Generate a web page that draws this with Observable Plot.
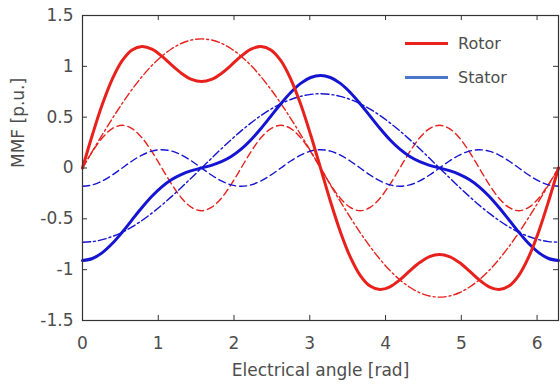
<!DOCTYPE html>
<html>
<head>
<meta charset="utf-8">
<script src="https://cdn.jsdelivr.net/npm/d3@7"></script>
<script src="https://cdn.jsdelivr.net/npm/@observablehq/plot@0.6"></script>
<style>
  html, body { margin: 0; padding: 0; background: #fff; }
  #wrap { position: relative; width: 560px; height: 386px; font-family: "DejaVu Sans", sans-serif; }
  .leg { position: absolute; left: 405px; height: 20px; display: flex; align-items: center; font-size: 16px; color: #4d4d4d; }
  .leg span.sw { display: inline-block; width: 43px; height: 3px; margin-right: 10px; }
</style>
</head>
<body>
<div id="wrap"></div>
<script>
const angle = [0, 0.131, 0.262, 0.393, 0.524, 0.654, 0.785, 0.916, 1.047, 1.178, 1.309, 1.440, 1.571, 1.702, 1.833, 1.963, 2.094, 2.225, 2.356, 2.487, 2.618, 2.749, 2.880, 3.011, 3.142, 3.272, 3.403, 3.534, 3.665, 3.796, 3.927, 4.058, 4.189, 4.320, 4.451, 4.581, 4.712, 4.843, 4.974, 5.105, 5.236, 5.367, 5.498, 5.629, 5.760, 5.890, 6.021, 6.152, 6.283];

const rotorTotal = [0, 0.327, 0.626, 0.874, 1.055, 1.161, 1.195, 1.169, 1.100, 1.012, 0.930, 0.871, 0.850, 0.871, 0.930, 1.012, 1.100, 1.169, 1.195, 1.161, 1.055, 0.874, 0.626, 0.327, 0, -0.327, -0.626, -0.874, -1.055, -1.161, -1.195, -1.169, -1.100, -1.012, -0.930, -0.871, -0.850, -0.871, -0.930, -1.012, -1.100, -1.169, -1.195, -1.161, -1.055, -0.874, -0.626, -0.327, 0];
const rotorFund = [0, 0.166, 0.329, 0.486, 0.635, 0.773, 0.898, 1.008, 1.100, 1.173, 1.227, 1.259, 1.270, 1.259, 1.227, 1.173, 1.100, 1.008, 0.898, 0.773, 0.635, 0.486, 0.329, 0.166, 0, -0.166, -0.329, -0.486, -0.635, -0.773, -0.898, -1.008, -1.100, -1.173, -1.227, -1.259, -1.270, -1.259, -1.227, -1.173, -1.100, -1.008, -0.898, -0.773, -0.635, -0.486, -0.329, -0.166, 0];
const rotorThird = [0, 0.161, 0.297, 0.388, 0.42, 0.388, 0.297, 0.161, 0, -0.161, -0.297, -0.388, -0.42, -0.388, -0.297, -0.161, 0, 0.161, 0.297, 0.388, 0.42, 0.388, 0.297, 0.161, 0, -0.161, -0.297, -0.388, -0.42, -0.388, -0.297, -0.161, 0, 0.161, 0.297, 0.388, 0.42, 0.388, 0.297, 0.161, 0, -0.161, -0.297, -0.388, -0.42, -0.388, -0.297, -0.161, 0];

const statorTotal = [-0.91, -0.890, -0.832, -0.743, -0.632, -0.510, -0.389, -0.278, -0.185, -0.113, -0.062, -0.026, 0, 0.026, 0.062, 0.113, 0.185, 0.278, 0.389, 0.510, 0.632, 0.743, 0.832, 0.890, 0.91, 0.890, 0.832, 0.743, 0.632, 0.510, 0.389, 0.278, 0.185, 0.113, 0.062, 0.026, 0, -0.026, -0.062, -0.113, -0.185, -0.278, -0.389, -0.510, -0.632, -0.743, -0.832, -0.890, -0.91];
const statorFund = [-0.73, -0.724, -0.705, -0.674, -0.632, -0.579, -0.516, -0.444, -0.365, -0.279, -0.189, -0.095, 0, 0.095, 0.189, 0.279, 0.365, 0.444, 0.516, 0.579, 0.632, 0.674, 0.705, 0.724, 0.73, 0.724, 0.705, 0.674, 0.632, 0.579, 0.516, 0.444, 0.365, 0.279, 0.189, 0.095, 0, -0.095, -0.189, -0.279, -0.365, -0.444, -0.516, -0.579, -0.632, -0.674, -0.705, -0.724, -0.73];
const statorThird = [-0.18, -0.166, -0.127, -0.069, 0, 0.069, 0.127, 0.166, 0.18, 0.166, 0.127, 0.069, 0, -0.069, -0.127, -0.166, -0.18, -0.166, -0.127, -0.069, 0, 0.069, 0.127, 0.166, 0.18, 0.166, 0.127, 0.069, 0, -0.069, -0.127, -0.166, -0.18, -0.166, -0.127, -0.069, 0, 0.069, 0.127, 0.166, 0.18, 0.166, 0.127, 0.069, 0, -0.069, -0.127, -0.166, -0.18];

const xTicks = [0, 1, 2, 3, 4, 5, 6];
const yTicks = [-1.5, -1, -0.5, 0, 0.5, 1, 1.5];
const yTickLabels = ["-1.5", "-1", "-0.5", "0", "0.5", "1", "1.5"];
const legendNames = ["Rotor", "Stator"];

const red = "#e8211c";
const blue = "#1414d2";
const xMax = 6.283;

function rows(ys) { return angle.map((a, i) => ({x: a, y: ys[i]})); }

const dashed = "7,4";
const dashdot = "8,3,2,3";

const chart = Plot.plot({
  width: 560,
  height: 386,
  marginLeft: 82,
  marginRight: 2,
  marginTop: 15,
  marginBottom: 66,
  style: {fontFamily: "'DejaVu Sans', sans-serif", fontSize: "16px", color: "#4d4d4d", background: "#fff"},
  x: {domain: [0, xMax]},
  y: {domain: [-1.5, 1.5]},
  marks: [
    Plot.line(rows(rotorFund), {x: "x", y: "y", stroke: red, strokeWidth: 1.4, strokeDasharray: dashdot, curve: "catmull-rom"}),
    Plot.line(rows(rotorThird), {x: "x", y: "y", stroke: red, strokeWidth: 1.4, strokeDasharray: dashed, curve: "catmull-rom"}),
    Plot.line(rows(statorFund), {x: "x", y: "y", stroke: blue, strokeWidth: 1.4, strokeDasharray: dashdot, curve: "catmull-rom"}),
    Plot.line(rows(statorThird), {x: "x", y: "y", stroke: blue, strokeWidth: 1.4, strokeDasharray: dashed, curve: "catmull-rom"}),
    Plot.line(rows(statorTotal), {x: "x", y: "y", stroke: blue, strokeWidth: 3, curve: "catmull-rom"}),
    Plot.line(rows(rotorTotal), {x: "x", y: "y", stroke: red, strokeWidth: 3, curve: "catmull-rom"}),
    Plot.frame({stroke: "#333", strokeWidth: 1.2}),
    Plot.ruleX(xTicks, {x: d => d, y1: -1.5, y2: -1.45, stroke: "#333"}),
    Plot.ruleX(xTicks, {x: d => d, y1: 1.5, y2: 1.45, stroke: "#333"}),
    Plot.ruleY(yTicks, {y: d => d, x1: 0, x2: 0.066, stroke: "#333"}),
    Plot.ruleY(yTicks, {y: d => d, x1: xMax, x2: xMax - 0.066, stroke: "#333"}),
    Plot.axisX(xTicks, {tickSize: 0, tickPadding: 16, fontSize: 17, label: null, fill: "#4d4d4d"}),
    Plot.axisY(yTicks, {tickSize: 0, tickPadding: 9, fontSize: 17, tickFormat: (d, i) => yTickLabels[i], label: null, fill: "#4d4d4d"}),
    Plot.text(["Electrical angle [rad]"], {frameAnchor: "bottom", dy: 55, fontSize: 17, fill: "#4d4d4d", lineAnchor: "bottom"}),
    Plot.text(["MMF [p.u.]"], {frameAnchor: "left", dx: -64, rotate: -90, fontSize: 17, fill: "#4d4d4d", lineAnchor: "middle"})
  ]
});

const wrap = document.getElementById("wrap");
wrap.appendChild(chart);
const legColors = [red, "#4a78c8"];
const legTops = [33, 67];
legendNames.forEach((n, i) => {
  const d = document.createElement("div");
  d.className = "leg";
  d.style.top = legTops[i] + "px";
  d.innerHTML = `<span class="sw" style="background:${legColors[i]}"></span><span>${n}</span>`;
  wrap.appendChild(d);
});
</script>
</body>
</html>
